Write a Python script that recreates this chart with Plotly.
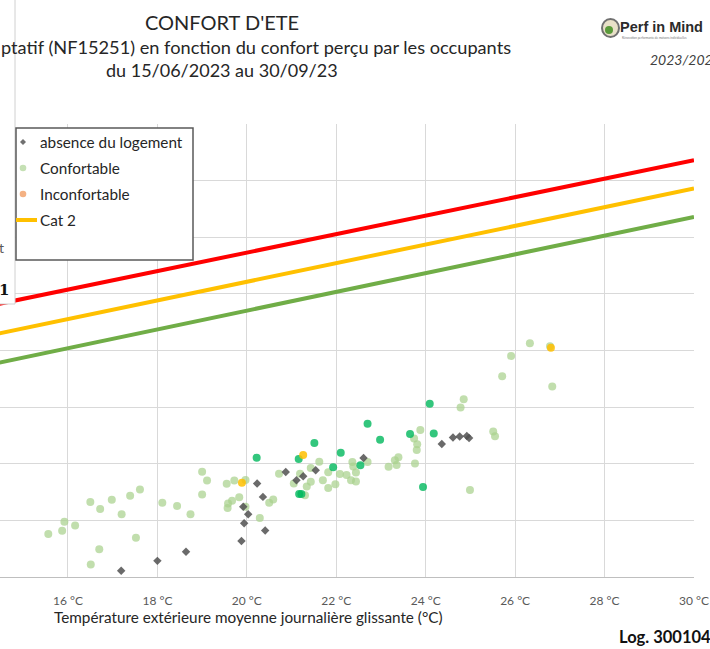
import plotly.graph_objects as go

# ---------------- data ----------------
confortable_x = [15.56, 15.87, 15.92, 16.16, 16.50, 16.72, 16.98, 17.20, 17.39, 17.61, 17.52, 16.70, 16.51,
                 18.11, 18.44, 18.74, 19.00, 19.11, 19.00, 19.55, 19.72, 19.97, 19.83, 19.67, 19.58, 19.57,
                 19.97, 20.29, 20.50, 20.59, 20.72, 21.05, 21.19, 21.34, 21.43, 21.43, 21.62, 21.70, 21.82,
                 21.82, 21.30, 21.98, 22.08, 22.23, 22.33, 22.44, 22.36, 22.38, 22.44, 22.70, 23.17, 23.31,
                 23.39, 23.35, 23.76, 23.74, 23.81, 23.80, 23.88, 24.85, 24.78, 25.51, 25.55, 24.99, 25.71,
                 25.91, 26.33, 26.78, 26.83]
confortable_y = [19.52, 19.63, 19.95, 19.82, 20.65, 20.40, 20.73, 20.22, 20.87, 21.09, 19.39, 18.98, 18.44,
                 20.62, 20.51, 20.22, 21.72, 21.41, 20.91, 21.29, 21.41, 21.43, 20.82, 20.69, 20.60, 20.44,
                 20.48, 20.08, 20.62, 20.74, 21.65, 21.30, 21.65, 21.20, 21.36, 21.85, 22.07, 21.42, 21.14,
                 21.70, 20.89, 21.28, 21.64, 21.60, 21.42, 21.37, 22.06, 21.90, 21.69, 22.06, 21.89, 22.12,
                 22.23, 21.96, 22.01, 22.89, 22.69, 22.49, 23.19, 24.28, 23.99, 23.14, 22.97, 21.07, 25.09,
                 25.81, 26.26, 26.15, 24.73]

tres_confortable_x = [20.22, 21.16, 21.51, 22.10, 21.93, 21.17, 21.22, 22.54, 22.70, 22.98, 23.65, 24.18,
                      23.94, 24.09]
tres_confortable_y = [22.21, 22.17, 22.73, 22.39, 21.88, 20.93, 20.93, 21.95, 23.41, 22.85, 23.05, 23.07,
                      21.18, 24.12]

neutre_x = [19.89, 21.26, 26.80]
neutre_y = [21.33, 22.31, 26.10]

absence_x = [17.19, 18.00, 18.64, 19.88, 19.94, 20.03, 19.92, 20.41, 20.36, 20.23, 20.87, 21.11, 21.26,
             21.54, 22.61, 24.36, 24.61, 24.76, 24.92, 24.97]
absence_y = [18.22, 18.57, 18.89, 19.27, 19.90, 20.22, 20.48, 19.64, 20.83, 21.30, 21.71, 21.42, 21.56,
             21.77, 22.20, 22.70, 22.93, 22.96, 22.98, 22.91]

# comfort limit lines (end points)
limit_x = [14.0, 30.0]
cat3_y = [27.50, 32.72]
cat2_y = [26.45, 31.72]
cat1_y = [25.42, 30.72]

x_ticks = [16, 18, 20, 22, 24, 26, 28, 30]
x_ticktext = ["16 °C", "18 °C", "20 °C", "22 °C", "24 °C", "26 °C", "28 °C", "30 °C"]

# ---------------- figure ----------------
FONT = "Lato, 'Open Sans', sans-serif"
W, H = 710, 649
PL, PR, PT, PB = 0, 694, 124, 577


def xp(px):
    return (px - PL) / (PR - PL)


def yp(py):
    return (PB - py) / (PB - PT)


fig = go.Figure()

fig.add_trace(go.Scatter(x=limit_x, y=cat1_y, mode="lines", line=dict(color="#70ad47", width=4),
                         name="Cat 1", showlegend=False))
fig.add_trace(go.Scatter(x=limit_x, y=cat2_y, mode="lines", line=dict(color="#ffc000", width=4),
                         name="Cat 2", showlegend=False))
fig.add_trace(go.Scatter(x=limit_x, y=cat3_y, mode="lines", line=dict(color="#ff0000", width=4),
                         name="Cat 3", showlegend=False))

fig.add_trace(go.Scatter(x=confortable_x, y=confortable_y, mode="markers", name="Confortable",
                         marker=dict(color="rgba(169,209,142,0.72)", size=8, line=dict(width=0)),
                         showlegend=False))
fig.add_trace(go.Scatter(x=tres_confortable_x, y=tres_confortable_y, mode="markers", name="Très confortable",
                         marker=dict(color="rgba(0,184,92,0.8)", size=8, line=dict(width=0)),
                         showlegend=False))
fig.add_trace(go.Scatter(x=neutre_x, y=neutre_y, mode="markers", name="Neutre",
                         marker=dict(color="rgba(255,192,0,0.85)", size=8, line=dict(width=0)),
                         showlegend=False))
fig.add_trace(go.Scatter(x=absence_x, y=absence_y, mode="markers", name="absence du logement",
                         marker=dict(color="rgba(80,80,80,0.85)", size=6.5, symbol="diamond",
                                     line=dict(width=0)),
                         showlegend=False))

shapes = []
annotations = []

# left cropped white text box
shapes.append(dict(type="rect", xref="paper", yref="paper", x0=xp(-6), x1=xp(15), y0=yp(304), y1=yp(-6),
                   fillcolor="white", line=dict(color="#d0d0d0", width=1), layer="above"))
annotations.append(dict(text="t", xref="paper", yref="paper", x=xp(-3), y=yp(247), xanchor="left",
                        yanchor="middle", showarrow=False, font=dict(family=FONT, size=14, color="#595959")))
annotations.append(dict(text="<b>1</b>", xref="paper", yref="paper", x=xp(-3), y=yp(290), xanchor="left",
                        yanchor="middle", showarrow=False, font=dict(family="DejaVu Serif", size=15, color="#111")))

# manual legend
shapes.append(dict(type="rect", xref="paper", yref="paper", x0=xp(16), x1=xp(193), y0=yp(260), y1=yp(128),
                   fillcolor="white", line=dict(color="#595959", width=1.5), layer="above"))
cx, cy, r = 23, 142, 3.0
shapes.append(dict(type="path", xref="paper", yref="paper", layer="above",
                   path=f"M {xp(cx)},{yp(cy - r)} L {xp(cx + r)},{yp(cy)} L {xp(cx)},{yp(cy + r)} L {xp(cx - r)},{yp(cy)} Z",
                   fillcolor="#707070", line=dict(width=0)))
for cy_, col in [(168, "#c5e0b4"), (194, "#f4b183")]:
    shapes.append(dict(type="circle", xref="paper", yref="paper", layer="above",
                       x0=xp(cx - 3.3), x1=xp(cx + 3.3), y0=yp(cy_ + 3.3), y1=yp(cy_ - 3.3),
                       fillcolor=col, line=dict(width=0)))
shapes.append(dict(type="line", xref="paper", yref="paper", layer="above",
                   x0=xp(16), x1=xp(37), y0=yp(220), y1=yp(220), line=dict(color="#ffc000", width=4)))
for ty, txt in [(142, "absence du logement"), (168, "Confortable"), (194, "Inconfortable"), (220, "Cat 2")]:
    annotations.append(dict(text=txt, xref="paper", yref="paper", x=xp(38), y=yp(ty), xanchor="left",
                            yanchor="middle", showarrow=False, font=dict(family=FONT, size=15.3, color="#262626")))

# titles
annotations.append(dict(text="CONFORT D'ETE", xref="paper", yref="paper", x=xp(222), y=yp(22),
                        xanchor="center", yanchor="middle", showarrow=False,
                        font=dict(family=FONT, size=20, color="#262626")))
annotations.append(dict(text="ptatif (NF15251) en fonction du confort perçu par les occupants",
                        xref="paper", yref="paper", x=xp(-1), y=yp(47), xanchor="left", yanchor="middle",
                        showarrow=False, font=dict(family=FONT, size=18.2, color="#262626")))
annotations.append(dict(text="du 15/06/2023 au 30/09/23", xref="paper", yref="paper", x=xp(222), y=yp(70),
                        xanchor="center", yanchor="middle", showarrow=False,
                        font=dict(family=FONT, size=18, color="#262626")))

# logo
shapes.append(dict(type="circle", xref="paper", yref="paper", x0=xp(602), x1=xp(619), y0=yp(37), y1=yp(19),
                   fillcolor="#e8e0c8", line=dict(color="#707070", width=2)))
shapes.append(dict(type="circle", xref="paper", yref="paper", x0=xp(605), x1=xp(613), y0=yp(34), y1=yp(26),
                   fillcolor="#5a9a3a", line=dict(width=0)))
annotations.append(dict(text="<b>Perf in Mind</b>", xref="paper", yref="paper", x=xp(618), y=yp(27),
                        xanchor="left", yanchor="middle", showarrow=False,
                        font=dict(family="'Liberation Sans Narrow', 'Liberation Sans', sans-serif", size=14.5,
                                  color="#2b2b2b")))
annotations.append(dict(text="Rénovation performante de maisons individuelles", xref="paper", yref="paper",
                        x=xp(620), y=yp(38), xanchor="left", yanchor="middle", showarrow=False,
                        font=dict(family=FONT, size=3, color="#777")))
annotations.append(dict(text="2023/2024", xref="paper", yref="paper", x=xp(648), y=yp(60),
                        xanchor="left", yanchor="middle", showarrow=False,
                        font=dict(family=FONT, size=14, color="#404040", style="italic")))

# axis title and footer
annotations.append(dict(text="Température extérieure moyenne journalière glissante (°C)", xref="paper",
                        yref="paper", x=xp(248), y=yp(617), xanchor="center", yanchor="middle",
                        showarrow=False, font=dict(family=FONT, size=15.3, color="#262626")))
annotations.append(dict(text="<b>Log. 3001043</b>", xref="paper", yref="paper", x=xp(617), y=yp(637),
                        xanchor="left", yanchor="middle", showarrow=False,
                        font=dict(family=FONT, size=16.5, color="#111")))

fig.update_layout(
    width=W, height=H, autosize=False,
    margin=dict(l=PL, r=W - PR, t=PT, b=H - PB, pad=0),
    paper_bgcolor="white", plot_bgcolor="white",
    showlegend=False,
    shapes=shapes, annotations=annotations,
    font=dict(family=FONT),
)
fig.update_xaxes(range=[14.48, 30], tickvals=x_ticks, ticktext=x_ticktext, showgrid=True,
                 gridcolor="#d9d9d9", gridwidth=1.3, zeroline=False, showline=True, linecolor="#bfbfbf",
                 linewidth=1.3, ticks="", tickfont=dict(family=FONT, size=12, color="#595959"),
                 ticklabelstandoff=12, ticklabeloverflow="allow", fixedrange=True)
fig.update_yaxes(range=[18, 34], dtick=2, showgrid=True, gridcolor="#d9d9d9", gridwidth=1.3,
                 zeroline=False, showticklabels=False, ticks="", showline=False, fixedrange=True)

fig.write_html("out.html", config={"displayModeBar": False},
               post_script="document.body.style.margin='0';document.body.style.overflow='hidden';")
